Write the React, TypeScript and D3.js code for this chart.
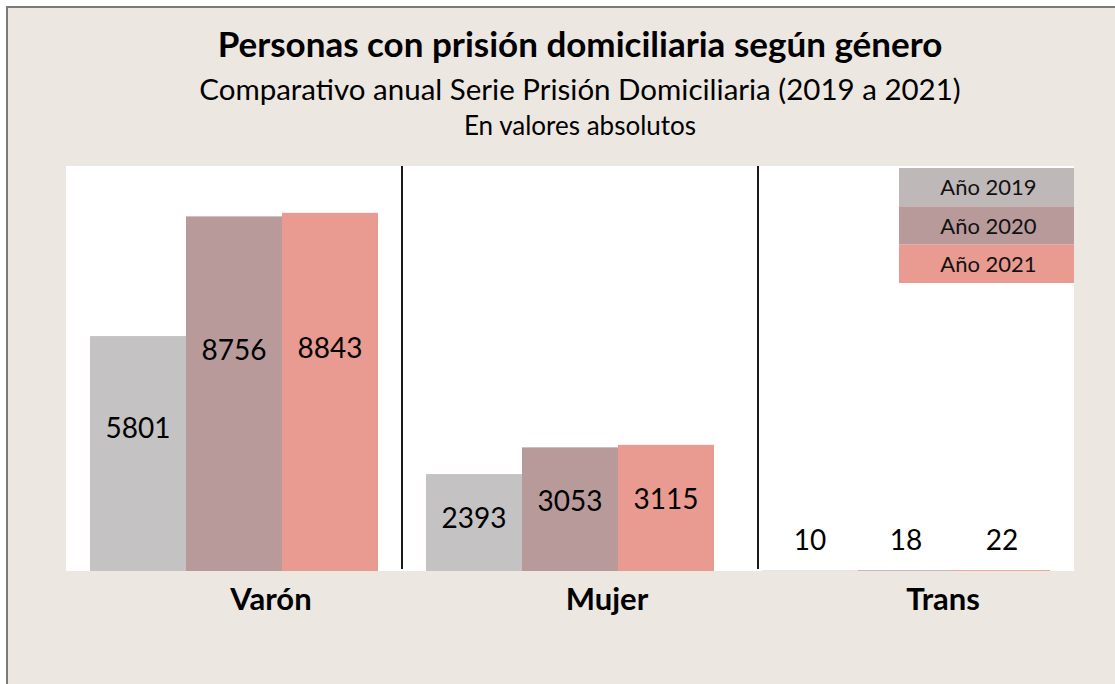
import * as d3 from 'd3';

// Chart data
const categories = ['Varón', 'Mujer', 'Trans'];
const years = ['Año 2019', 'Año 2020', 'Año 2021'];
const values2019 = [5801, 2393, 10];
const values2020 = [8756, 3053, 18];
const values2021 = [8843, 3115, 22];
const yDomain = [0, 10000];

const series = [values2019, values2020, values2021];

// Styles
const barColors = ['#C4C2C3', '#B99A9B', '#EA9B91'];
const legendColors = ['#BFB8B8', '#B99A9B', '#EA9B91'];
const font = 'Lato, "Open Sans", sans-serif';

const W = 1115;
const H = 684;
const plot = { left: 66, right: 1074, top: 166, bottom: 571 };

export default function App() {
    const x0 = d3.scaleBand<string>().domain(categories).range([plot.left, plot.right]);
    const x1 = d3.scaleBand<string>().domain(years).range([0, x0.bandwidth()]).paddingOuter(0.25);
    const y = d3.scaleLinear().domain(yDomain).range([plot.bottom, plot.top]);

    // legend rows
    const legendY = d3.scaleBand<string>().domain(years).range([168, 283]);
    const legendX = 899;
    const legendW = plot.right - legendX;

    // dividers sit between groups (second one was nudged right in the original)
    const dividerOffsets = [0, 20];

    // label baseline: roughly mid bar, never below the floor
    const labelY = (v: number) => {
        const h = y(0) - y(v);
        return y(0) - Math.max(21, h * 0.65 - 20);
    };

    return (
        <svg width={W} height={H} style={{ position: 'absolute', left: 0, top: 0, display: 'block' }}
             fontFamily={font}>
            <rect x={0} y={0} width={W} height={H} fill="#ffffff" />
            <rect x={7} y={7} width={W + 100} height={H + 100} fill="#ECE7E1" stroke="#7A7A7A" strokeWidth={2} />

            {/* titles */}
            <text x={580} y={57} textAnchor="middle" fontSize={35} fontWeight="bold" fill="#000">
                Personas con prisión domiciliaria según género
            </text>
            <text x={580} y={100} textAnchor="middle" fontSize={29.5} fill="#000">
                Comparativo anual Serie Prisión Domiciliaria (2019 a 2021)
            </text>
            <text x={580} y={135} textAnchor="middle" fontSize={26} fill="#000">
                En valores absolutos
            </text>

            {/* plot area */}
            <rect x={plot.left} y={plot.top} width={plot.right - plot.left} height={plot.bottom - plot.top} fill="#ffffff" />

            {/* bars */}
            {categories.map((c, ci) => (
                <g key={c} transform={`translate(${x0(c)},0)`}>
                    {years.map((yr, si) => {
                        const v = series[si][ci];
                        return (
                            <rect key={yr} x={x1(yr)} y={y(v)} width={x1.bandwidth()}
                                  height={y(0) - y(v)} fill={barColors[si]} />
                        );
                    })}
                </g>
            ))}

            {/* dividers */}
            {categories.slice(1).map((c, i) => (
                <line key={c} x1={(x0(c) ?? 0) + dividerOffsets[i]} x2={(x0(c) ?? 0) + dividerOffsets[i]}
                      y1={plot.top} y2={plot.bottom - 2} stroke="#1a1a1a" strokeWidth={2} />
            ))}

            {/* value labels */}
            {categories.map((c, ci) => (
                <g key={c} transform={`translate(${x0(c)},0)`}>
                    {years.map((yr, si) => {
                        const v = series[si][ci];
                        return (
                            <text key={yr} x={(x1(yr) ?? 0) + x1.bandwidth() / 2} y={labelY(v)}
                                  textAnchor="middle" fontSize={28} fill="#000">
                                {v}
                            </text>
                        );
                    })}
                </g>
            ))}

            {/* category labels */}
            {categories.map(c => (
                <text key={c} x={(x0(c) ?? 0) + x0.bandwidth() / 2 + 37} y={610}
                      textAnchor="middle" fontSize={31} fontWeight="bold" fill="#000">
                    {c}
                </text>
            ))}

            {/* legend */}
            {years.map((yr, i) => (
                <g key={yr}>
                    <rect x={legendX} y={legendY(yr)} width={legendW} height={legendY.bandwidth()} fill={legendColors[i]} />
                    <text x={legendX + legendW / 2 + 2} y={(legendY(yr) ?? 0) + legendY.bandwidth() / 2 + 8}
                          textAnchor="middle" fontSize={22} fill="#111">
                        {yr}
                    </text>
                </g>
            ))}
        </svg>
    );
}
